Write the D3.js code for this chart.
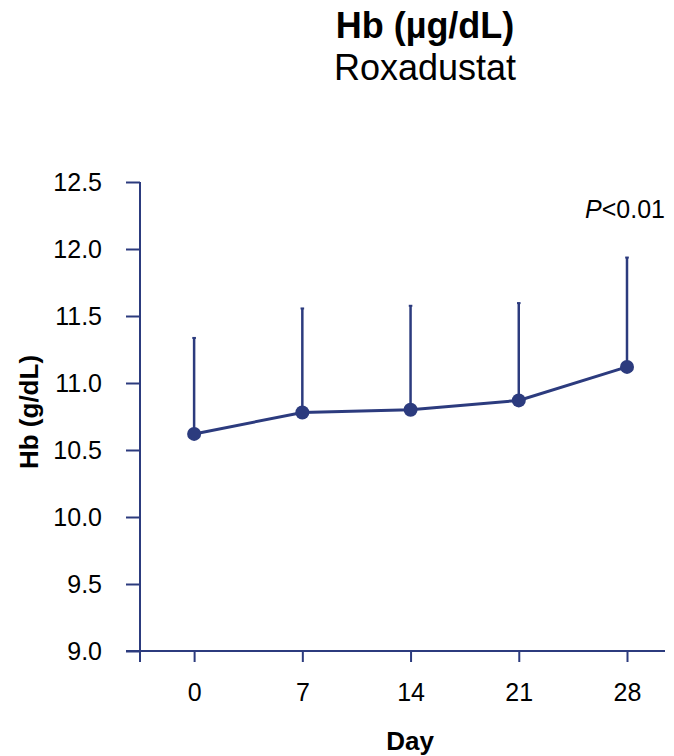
<!DOCTYPE html>
<html>
<head>
<meta charset="utf-8">
<script src="https://cdn.jsdelivr.net/npm/d3@7"></script>
<style>
  html, body { margin: 0; padding: 0; background: #fff; }
  text { font-family: "Liberation Sans", Arial, sans-serif; fill: #000; }
</style>
</head>
<body>
<svg id="chart" width="674" height="756"></svg>
<script>
// Hemoglobin over time under Roxadustat: mean with upper SD bar
const days = [0, 7, 14, 21, 28];
const hbMean = [10.62, 10.78, 10.80, 10.87, 11.12];
const hbUpper = [11.34, 11.56, 11.58, 11.60, 11.94];
const yTicks = [9.0, 9.5, 10.0, 10.5, 11.0, 11.5, 12.0, 12.5];
const xTicks = [0, 7, 14, 21, 28];

const navy = "#2c3b7e";
const svg = d3.select("#chart");

const x = d3.scaleLinear().domain([-3.5, 28]).range([140, 627]);
const y = d3.scaleLinear().domain([9.0, 12.5]).range([651, 182]);

// Titles
svg.append("text").attr("x", 425).attr("y", 38).attr("text-anchor", "middle")
  .style("font-size", "36px").style("font-weight", "bold").text("Hb (µg/dL)");
svg.append("text").attr("x", 425).attr("y", 80).attr("text-anchor", "middle")
  .style("font-size", "36px").text("Roxadustat");

// Y axis
const yAxis = svg.append("g").attr("transform", `translate(${x(-3.5)},0)`)
  .call(d3.axisLeft(y).tickValues(yTicks).tickFormat(d3.format(".1f")).tickSize(14).tickPadding(24));
yAxis.select(".domain").remove();
yAxis.append("line").attr("x1", 0).attr("x2", 0).attr("y1", y(12.5)).attr("y2", y(9.0) + 11)
  .attr("stroke", navy).attr("stroke-width", 2);
yAxis.selectAll(".tick line").attr("stroke", navy).attr("stroke-width", 2);
yAxis.selectAll(".tick text").style("font-size", "25px").attr("fill", "#000")
  .style("font-family", "'Liberation Sans', Arial, sans-serif");

// X axis
const xAxis = svg.append("g").attr("transform", `translate(0,${y(9.0)})`)
  .call(d3.axisBottom(x).tickValues(xTicks).tickFormat(d3.format("d")).tickSize(11).tickPadding(21));
xAxis.select(".domain").remove();
xAxis.append("line").attr("x1", x(-3.5) - 14).attr("x2", 665).attr("y1", 0).attr("y2", 0)
  .attr("stroke", navy).attr("stroke-width", 2);
xAxis.selectAll(".tick line").attr("stroke", navy).attr("stroke-width", 2);
xAxis.selectAll(".tick text").style("font-size", "25px").attr("fill", "#000")
  .style("font-family", "'Liberation Sans', Arial, sans-serif");

// Axis titles
svg.append("text").attr("x", 410).attr("y", 750).attr("text-anchor", "middle")
  .style("font-size", "26px").style("font-weight", "bold").text("Day");
svg.append("text").attr("transform", `translate(38,412) rotate(-90)`).attr("text-anchor", "middle")
  .style("font-size", "26px").style("font-weight", "bold").text("Hb (g/dL)");

const data = days.map((d, i) => ({ day: d, mean: hbMean[i], upper: hbUpper[i] }));

// Upper error bars
svg.append("g").selectAll("line").data(data).join("line")
  .attr("x1", d => x(d.day)).attr("x2", d => x(d.day))
  .attr("y1", d => y(d.mean)).attr("y2", d => y(d.upper))
  .attr("stroke", navy).attr("stroke-width", 2.5);
svg.append("g").selectAll("line").data(data).join("line")
  .attr("x1", d => x(d.day) - 1.8).attr("x2", d => x(d.day) + 1.8)
  .attr("y1", d => y(d.upper) + 0.5).attr("y2", d => y(d.upper) + 0.5)
  .attr("stroke", navy).attr("stroke-width", 2);

// Mean line
svg.append("path").datum(data)
  .attr("d", d3.line().x(d => x(d.day)).y(d => y(d.mean)))
  .attr("fill", "none").attr("stroke", navy).attr("stroke-width", 3);

// Points
svg.append("g").selectAll("circle").data(data).join("circle")
  .attr("cx", d => x(d.day)).attr("cy", d => y(d.mean)).attr("r", 7)
  .attr("fill", navy);

// Significance label
const p = svg.append("text").attr("x", 665).attr("y", 218).attr("text-anchor", "end")
  .style("font-size", "25px");
p.append("tspan").style("font-style", "italic").text("P");
p.append("tspan").text("<0.01");
</script>
</body>
</html>
